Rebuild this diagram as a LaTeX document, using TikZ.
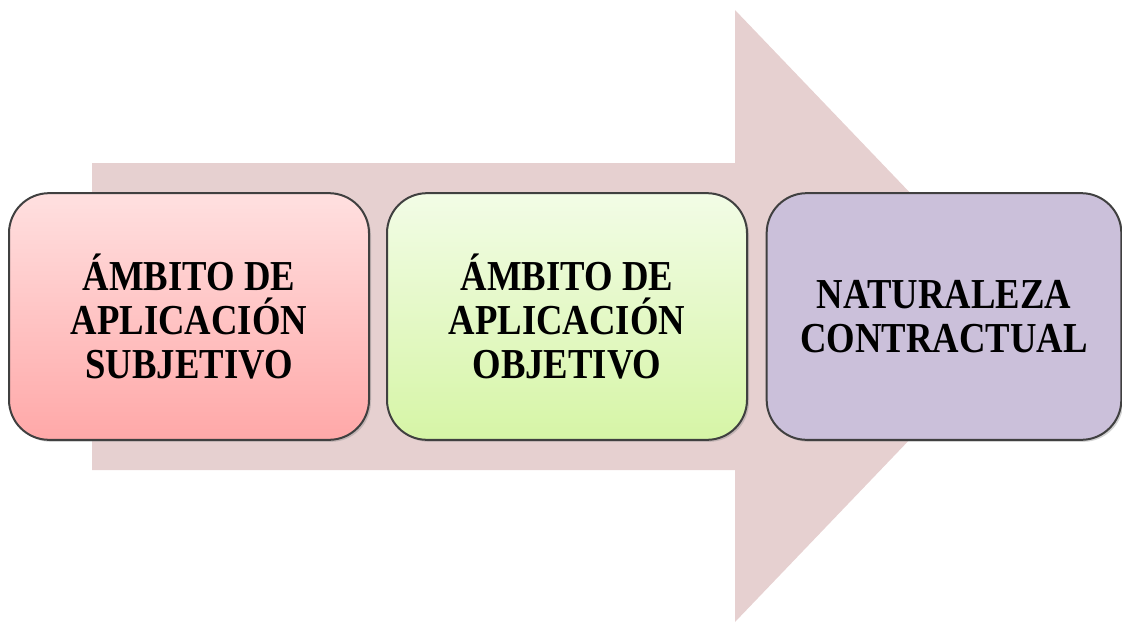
\documentclass[tikz,border=0pt]{standalone}
\usepackage{fontspec}
\setmainfont{Liberation Serif}[BoldFeatures={FakeStretch=0.86}]
\usetikzlibrary{shadows}
\definecolor{arrowfill}{HTML}{E6D0D0}
\definecolor{redtop}{HTML}{FFE0E0}
\definecolor{redbot}{HTML}{FFA8A8}
\definecolor{greentop}{HTML}{F2FCE6}
\definecolor{greenbot}{HTML}{D6F5A6}
\definecolor{purplefill}{HTML}{CBC0DA}
\definecolor{boxborder}{HTML}{404040}
\tikzset{
  stagebox/.style={draw=boxborder, line width=1.5pt, rounded corners=30pt,
    minimum width=270pt, minimum height=185pt, align=center,
    font=\fontsize{32pt}{33pt}\selectfont\bfseries,
    drop shadow={shadow xshift=1.5pt, shadow yshift=-1.5pt, opacity=0.35}},
}
\begin{document}
\begin{tikzpicture}[x=0.75pt,y=-0.75pt]
\useasboundingbox (0,0) rectangle (1122,625);
% big background arrow
\fill[arrowfill] (92,163) -- (735,163) -- (735,10) -- (1028,316) -- (735,622) -- (735,470) -- (92,470) -- cycle;
% boxes
\node[stagebox, top color=redtop, bottom color=redbot] (a) at (189,316.5) {ÁMBITO DE\\APLICACIÓN\\SUBJETIVO};
\node[stagebox, top color=greentop, bottom color=greenbot] (b) at (567,316.5) {ÁMBITO DE\\APLICACIÓN\\OBJETIVO};
\node[stagebox, fill=purplefill, minimum width=266pt] (c) at (944,316.5) {NATURALEZA\\CONTRACTUAL};
\end{tikzpicture}
\end{document}
